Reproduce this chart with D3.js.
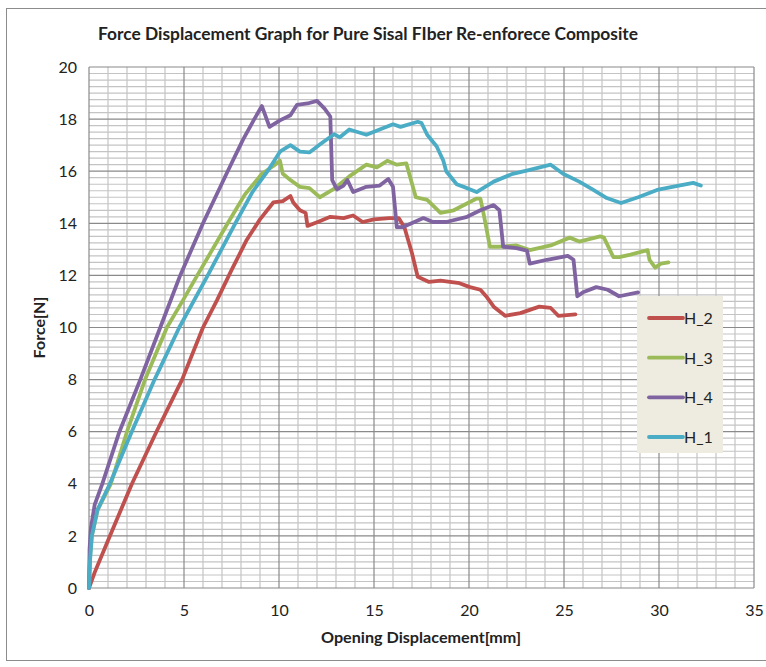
<!DOCTYPE html>
<html>
<head>
<meta charset="utf-8">
<script src="https://cdn.jsdelivr.net/npm/d3@7"></script>
<style>
  body { margin: 0; background: #fff; }
  svg { display: block; font-family: Lato, "Open Sans", sans-serif; }
</style>
</head>
<body>
<svg id="chart" width="766" height="667"></svg>
<script>
// ---- data (x = opening displacement mm, y = force N)
const seriesNames = ["H_2", "H_3", "H_4", "H_1"];
const seriesColors = ["#c0504d", "#9bbb59", "#8064a2", "#4bacc6"];

const h2 = [[0,0],[0.3,0.6],[1.1,2],[2.26,4],[3.55,6],[4.9,8],[6.0,10],[6.74,11.05],[7.5,12.2],[8.3,13.36],
  [9.0,14.15],[9.7,14.8],[10.2,14.85],[10.6,15.05],[10.75,14.8],[11.1,14.5],[11.4,14.4],[11.5,13.9],[12.2,14.1],
  [12.7,14.25],[13.4,14.2],[13.9,14.3],[14.4,14.05],[15.0,14.15],[15.8,14.2],[16.3,14.2],[16.6,13.85],[17.0,12.85],
  [17.3,11.95],[17.9,11.75],[18.5,11.8],[19.5,11.7],[20.05,11.55],[20.6,11.45],[20.9,11.2],[21.3,10.8],[21.9,10.45],
  [22.7,10.55],[23.7,10.8],[24.3,10.75],[24.7,10.45],[25.6,10.5]];

const h3 = [[0,0],[0.05,1.2],[0.15,2],[0.45,3],[1.15,4],[2.0,6],[2.95,8],[4.1,10],[4.95,11.05],[5.7,12],[7.3,14],
  [8.2,15.1],[9.1,15.9],[9.7,16.2],[10.05,16.4],[10.2,15.9],[10.6,15.66],[11.1,15.4],[11.6,15.35],[12.15,15.0],
  [12.85,15.3],[13.7,15.8],[14.6,16.25],[15.15,16.15],[15.7,16.4],[16.2,16.25],[16.7,16.3],[17.2,15.0],[17.8,14.9],
  [18.5,14.4],[19.2,14.5],[20.4,14.95],[20.6,14.95],[20.8,14.25],[21.1,13.1],[21.6,13.1],[22.5,13.15],[23.2,12.97],
  [24.3,13.15],[25.3,13.45],[25.8,13.3],[26.9,13.5],[27.1,13.45],[27.6,12.7],[27.9,12.7],[28.5,12.8],[29.4,12.97],
  [29.5,12.6],[29.8,12.3],[30.1,12.45],[30.5,12.5]];

const h4 = [[0,0],[0.03,1.5],[0.1,2.3],[0.3,3.2],[0.7,4],[1.6,6],[2.7,8],[3.75,10],[4.8,12],
  [6.0,14],[7.3,16],[8.1,17.2],[8.7,18.0],[9.1,18.5],[9.5,17.7],[10.05,17.95],
  [10.6,18.15],[10.95,18.55],[11.5,18.6],[12.0,18.7],[12.4,18.4],[12.7,18.1],[12.8,15.66],[13.05,15.3],[13.4,15.45],
  [13.6,15.66],[13.9,15.2],[14.6,15.4],[15.3,15.45],[15.75,15.7],[16.0,15.4],[16.2,13.85],[16.5,13.85],[17.6,14.2],
  [18.1,14.05],[18.8,14.05],[19.9,14.25],[20.6,14.5],[21.3,14.7],[21.6,14.5],[21.8,13.1],[22.5,13.05],[23.05,12.95],
  [23.2,12.45],[24.1,12.6],[25.2,12.75],[25.5,12.6],[25.7,11.2],[26.0,11.35],[26.7,11.55],[27.3,11.45],[27.9,11.2],
  [28.9,11.35]];

const h1 = [[0,0],[0.05,1],[0.15,2],[0.45,3],[1.1,4],[2.25,6],[3.45,8],[4.75,10],[6.25,12],[7.7,14],
  [8.6,15.2],[9.4,16.0],[10.05,16.75],[10.6,17.0],[11.1,16.75],[11.6,16.72],[12.2,17.05],[12.9,17.42],[13.2,17.3],
  [13.7,17.6],[14.6,17.4],[15.3,17.6],[16.0,17.8],[16.4,17.7],[17.3,17.9],[17.5,17.85],[17.8,17.4],[18.3,16.95],
  [18.65,16.4],[18.8,16.0],[19.35,15.5],[19.9,15.35],[20.4,15.2],[21.3,15.6],[22.3,15.9],[23.2,16.05],[24.3,16.25],
  [24.95,15.9],[25.8,15.6],[26.5,15.3],[27.25,14.97],[28.0,14.78],[28.9,15.0],[29.9,15.28],[30.7,15.4],[31.8,15.55],
  [32.2,15.45]];

const seriesData = [h2, h3, h4, h1];

const xTicks = [0, 5, 10, 15, 20, 25, 30, 35];
const yTicks = [0, 2, 4, 6, 8, 10, 12, 14, 16, 18, 20];

// ---- layout
const margin = { left: 89, right: 12, top: 67, bottom: 79 };
const W = 766, H = 667;

const svg = d3.select("#chart");

// outer chart frame
svg.append("rect")
  .attr("x", 6.5).attr("y", 8.5)
  .attr("width", 790).attr("height", 652)
  .attr("fill", "#fff").attr("stroke", "#8c8c8c").attr("stroke-width", 1);

const x = d3.scaleLinear().domain([0, 35]).range([margin.left, W - margin.right]);
const y = d3.scaleLinear().domain([0, 20]).range([H - margin.bottom, margin.top]);

const g = svg.append("g");

// minor grid
const minorX = d3.range(0, 35.001, 1);
const minorY = d3.range(0, 20.001, 0.25);

g.append("g").selectAll("line").data(minorX.filter(d => d % 5 !== 0)).enter().append("line")
  .attr("x1", d => x(d)).attr("x2", d => x(d))
  .attr("y1", y(0)).attr("y2", y(20))
  .attr("stroke", "#c4c4c4").attr("stroke-width", 1.2);

g.append("g").selectAll("line").data(minorY.filter(d => d % 2 !== 0)).enter().append("line")
  .attr("x1", x(0)).attr("x2", x(35))
  .attr("y1", d => y(d)).attr("y2", d => y(d))
  .attr("stroke", "#c4c4c4").attr("stroke-width", 1.2);

// major grid
g.append("g").selectAll("line").data(xTicks).enter().append("line")
  .attr("x1", d => x(d)).attr("x2", d => x(d))
  .attr("y1", y(0)).attr("y2", y(20))
  .attr("stroke", "#8a8a8a").attr("stroke-width", 1.2);

g.append("g").selectAll("line").data(yTicks).enter().append("line")
  .attr("x1", x(0)).attr("x2", x(35))
  .attr("y1", d => y(d)).attr("y2", d => y(d))
  .attr("stroke", "#8a8a8a").attr("stroke-width", 1.2);

// axes labels (ticks hidden, just text)
const xAxis = d3.axisBottom(x).tickValues(xTicks).tickSize(0).tickPadding(17);
const yAxis = d3.axisLeft(y).tickValues(yTicks).tickSize(0).tickPadding(12);

const gx = svg.append("g").attr("transform", `translate(0,${y(0)})`).call(xAxis);
const gy = svg.append("g").attr("transform", `translate(${x(0)},0)`).call(yAxis);
[gx, gy].forEach(a => {
  a.select(".domain").remove();
  a.selectAll("text").attr("font-size", 16).attr("fill", "#222").attr("font-family", "Lato, sans-serif");
});

// series
const line = d3.line().x(d => x(d[0])).y(d => y(d[1]));

svg.append("g").selectAll("path").data(seriesData).enter().append("path")
  .attr("d", line)
  .attr("fill", "none")
  .attr("stroke", (d, i) => seriesColors[i])
  .attr("stroke-width", 3.8)
  .attr("stroke-linejoin", "round")
  .attr("stroke-linecap", "round");

// titles
svg.append("text")
  .attr("x", 368).attr("y", 40)
  .attr("text-anchor", "middle")
  .attr("font-size", 16.5).attr("font-weight", "bold").attr("fill", "#222")
  .attr("textLength", 540).attr("lengthAdjust", "spacingAndGlyphs")
  .text("Force Displacement Graph for Pure Sisal FIber Re-enforece Composite");

svg.append("text")
  .attr("x", 421).attr("y", 643)
  .attr("text-anchor", "middle")
  .attr("font-size", 16).attr("font-weight", "bold").attr("fill", "#222")
  .attr("textLength", 200).attr("lengthAdjust", "spacingAndGlyphs")
  .text("Opening Displacement[mm]");

svg.append("text")
  .attr("transform", `translate(45,${(y(0) + y(20)) / 2}) rotate(-90)`)
  .attr("text-anchor", "middle")
  .attr("font-size", 16).attr("font-weight", "bold").attr("fill", "#222")
  .text("Force[N]");

// legend
const legend = svg.append("g").attr("transform", "translate(637,296)");
legend.append("rect")
  .attr("width", 86).attr("height", 157)
  .attr("fill", "#eeece1");

const legendY = d3.scalePoint().domain(seriesNames).range([22, 141]);
const items = legend.selectAll("g.item").data(seriesNames).enter().append("g")
  .attr("class", "item")
  .attr("transform", d => `translate(0,${legendY(d)})`);
items.append("line")
  .attr("x1", 12).attr("x2", 46)
  .attr("stroke", (d, i) => seriesColors[i])
  .attr("stroke-width", 3.8).attr("stroke-linecap", "round");
items.append("text")
  .attr("x", 47).attr("y", 6)
  .attr("font-size", 16).attr("fill", "#222")
  .text(d => d);
</script>
</body>
</html>
